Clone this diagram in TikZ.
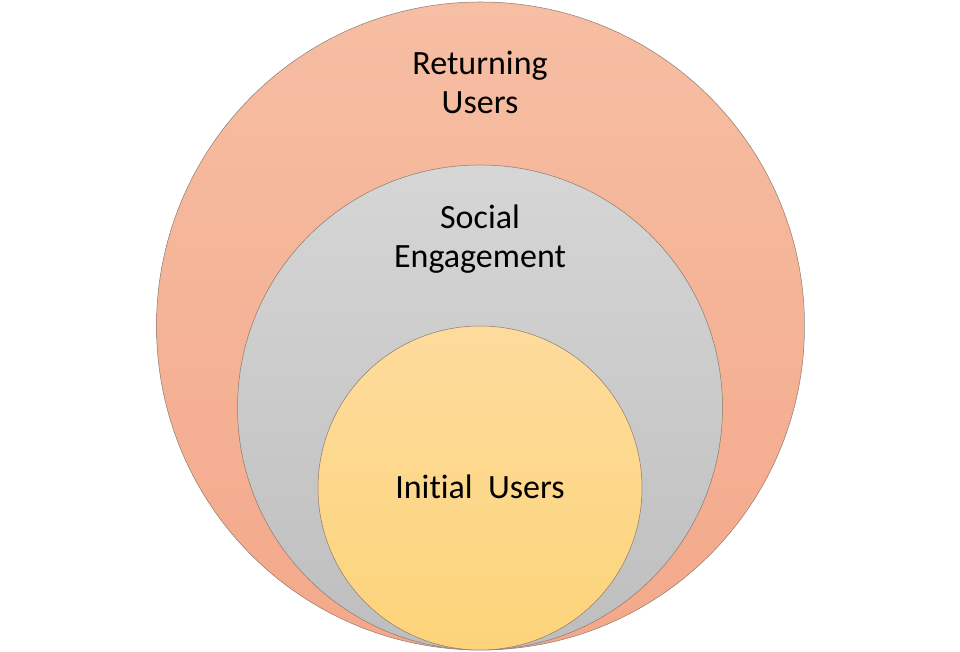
\documentclass[tikz,border=0pt]{standalone}
\usepackage{fontspec}
\setmainfont[Ligatures=NoCommon]{Carlito}
\definecolor{outerTop}{HTML}{F6BEA3}
\definecolor{outerBot}{HTML}{F4A88A}
\definecolor{midTop}{HTML}{D6D6D6}
\definecolor{midBot}{HTML}{BEBEBE}
\definecolor{innTop}{HTML}{FDDB9C}
\definecolor{innBot}{HTML}{FDD47A}
\definecolor{edge}{HTML}{8C7A6E}
\tikzset{
  ring/.style={circle, draw=edge, line width=0.5pt, inner sep=0pt},
  lbl/.style={align=center, font=\fontsize{34}{39}\selectfont, text=black}
}
\begin{document}
\begin{tikzpicture}[x=1pt,y=1pt]
\useasboundingbox (0,0) rectangle (960,652);
\node[ring, minimum size=648pt, top color=outerTop, bottom color=outerBot] (outer) at (480.5,326) {};
\node[ring, minimum size=485pt, top color=midTop, bottom color=midBot] (middle) at (480,244.5) {};
\node[ring, minimum size=324pt, top color=innTop, bottom color=innBot] (inner) at (480,164) {};
\node[lbl] (treturn) at (480,570) {Returning\\Users};
\node[lbl] (tsocial) at (480,413) {Social\\Engagement};
\node[lbl] (tinitial) at (480,165) {Initial\hspace{0.45em}Users};
\end{tikzpicture}
\end{document}
